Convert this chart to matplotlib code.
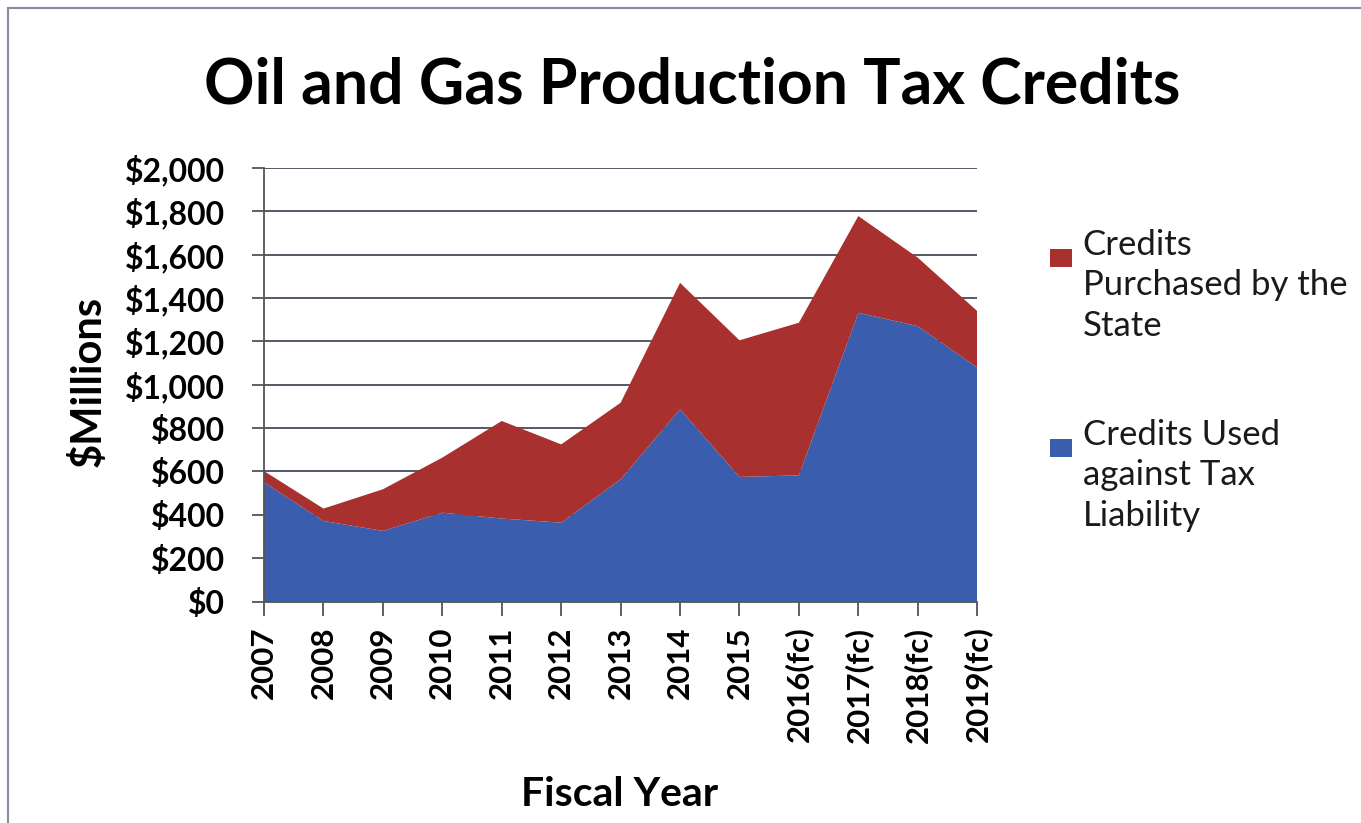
import matplotlib
matplotlib.use("Agg")
import matplotlib.pyplot as plt
from matplotlib.ticker import FuncFormatter, MultipleLocator
from matplotlib.patches import Rectangle

years = ["2007", "2008", "2009", "2010", "2011", "2012", "2013", "2014",
         "2015", "2016(fc)", "2017(fc)", "2018(fc)", "2019(fc)"]
used = [550, 372, 326, 410, 383, 364, 564, 887, 575, 582, 1332, 1270, 1079]
total = [602, 429, 518, 664, 833, 725, 917, 1470, 1205, 1286, 1778, 1586, 1340]
purchased = [t - u for t, u in zip(total, used)]
series_labels = ["Credits Used\nagainst Tax\nLiability",
                 "Credits\nPurchased by the\nState"]

BLUE = "#3a5dae"
RED = "#a8302e"
FONT = ["Lato", "DejaVu Sans"]
plt.rcParams["font.family"] = FONT

fig = plt.figure(figsize=(13.61, 8.23), dpi=100)
ax = fig.add_axes([0.194, 0.269, 0.524, 0.527])

x = list(range(len(years)))
polys = ax.stackplot(x, used, purchased, colors=[BLUE, RED], zorder=2)
for p in polys:
    p.set_edgecolor("none")

ax.set_xlim(0, len(years) - 1)
ax.set_ylim(0, 2000)
ax.yaxis.set_major_locator(MultipleLocator(200))
ax.yaxis.set_major_formatter(FuncFormatter(lambda v, _: f"${int(v):,}"))
ax.grid(axis="y", color="#4a4a5a", linewidth=1.3, zorder=1)
ax.set_axisbelow(True)
for s in ["top", "right"]:
    ax.spines[s].set_visible(False)
for s in ["left", "bottom"]:
    ax.spines[s].set_color("#555555")
    ax.spines[s].set_linewidth(1.3)

ax.set_xticks(x)
ax.set_xticklabels(years, rotation=90, fontsize=22.5, fontweight="bold")
ax.tick_params(axis="x", length=10, width=1.3, color="#555555", pad=8)
ax.tick_params(axis="y", length=9, width=1.3, color="#555555", labelsize=23, pad=19)
for lab in ax.get_yticklabels():
    lab.set_fontweight("bold")

fig.text(0.065, 0.536, "$Millions", fontsize=30, fontweight="bold",
         rotation=90, ha="center", va="center")
fig.text(0.4555, 0.035, "Fiscal Year", fontsize=29.5, fontweight="bold",
         ha="center", va="center")
fig.text(0.5085, 0.896, "Oil and Gas Production Tax Credits", fontsize=45,
         fontweight="bold", ha="center", va="center")

# legend (marker aligned with first line of each label)
legend_items = [(series_labels[1], RED, 0.722), (series_labels[0], BLUE, 0.491)]
for text, color, ytop in legend_items:
    fig.text(0.7955, ytop, text, fontsize=25, ha="left", va="top",
             linespacing=1.33, color="#1a1a1a")
    fig.add_artist(Rectangle((0.7715, ytop - 0.0465), 0.0165, 0.0215,
                             transform=fig.transFigure, facecolor=color,
                             edgecolor="none"))

fig.add_artist(Rectangle((0.006, -0.01), 1.1, 1.0, transform=fig.transFigure,
                         fill=False, edgecolor="#8a8a9a", linewidth=1.5))

fig.savefig("out.png", dpi=100)
